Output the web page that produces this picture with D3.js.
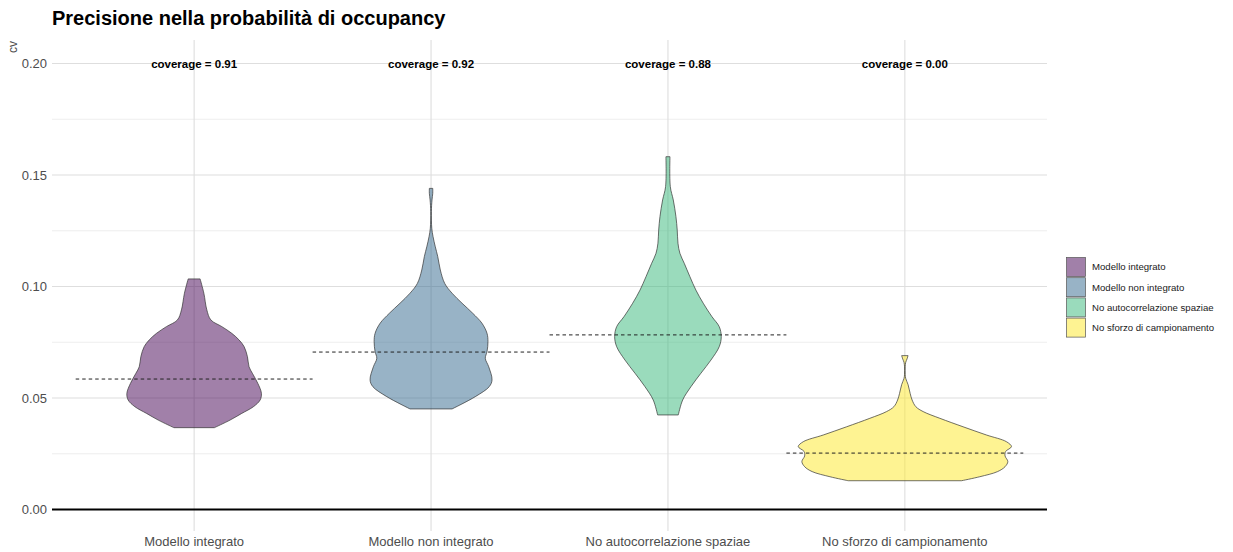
<!DOCTYPE html>
<html>
<head>
<meta charset="utf-8">
<script src="https://cdn.jsdelivr.net/npm/d3@7"></script>
<style>
  html, body { margin: 0; padding: 0; background: #fff; }
  svg { display: block; font-family: "Liberation Sans", Arial, sans-serif; }
</style>
</head>
<body>
<svg id="chart" width="1233" height="552"></svg>
<script>
// Scenari di modello a confronto
const categorie = ["Modello integrato", "Modello non integrato", "No autocorrelazione spaziae", "No sforzo di campionamento"];

// Profili di densità del CV (densità relativa al massimo complessivo)
const cvIntegrato = [0.1034, 0.0970, 0.0895, 0.0850, 0.0820, 0.0790, 0.0760, 0.0730, 0.0685, 0.0640, 0.0611, 0.0566, 0.0521, 0.0491, 0.0461, 0.0431, 0.0401, 0.0367];
const densIntegrato = [0.056, 0.091, 0.119, 0.157, 0.260, 0.353, 0.422, 0.469, 0.500, 0.515, 0.546, 0.597, 0.631, 0.619, 0.556, 0.447, 0.337, 0.190];

const cvNonIntegrato = [0.1440, 0.1418, 0.1388, 0.1336, 0.1261, 0.1223, 0.1178, 0.1134, 0.1074, 0.1014, 0.0970, 0.0925, 0.0880, 0.0835, 0.0790, 0.0753, 0.0708, 0.0678, 0.0640, 0.0581, 0.0551, 0.0506, 0.0451];
const densNonIntegrato = [0.016, 0.016, 0.009, 0.003, 0.007, 0.019, 0.040, 0.063, 0.087, 0.128, 0.197, 0.291, 0.391, 0.478, 0.525, 0.534, 0.525, 0.509, 0.541, 0.572, 0.546, 0.415, 0.197];

const cvNoAutocorr = [0.1582, 0.1448, 0.1388, 0.1313, 0.1253, 0.1194, 0.1149, 0.1104, 0.1044, 0.0984, 0.0925, 0.0865, 0.0820, 0.0775, 0.0730, 0.0670, 0.0611, 0.0551, 0.0491, 0.0424];
const densNoAutocorr = [0.019, 0.022, 0.050, 0.075, 0.087, 0.094, 0.112, 0.153, 0.206, 0.262, 0.331, 0.412, 0.481, 0.500, 0.481, 0.403, 0.309, 0.216, 0.138, 0.097];

const cvNoSforzo = [0.0690, 0.0675, 0.0660, 0.0640, 0.0605, 0.0588, 0.0560, 0.0520, 0.0491, 0.0461, 0.0439, 0.0409, 0.0371, 0.0334, 0.0304, 0.0282, 0.0260, 0.0240, 0.0215, 0.0192, 0.0170, 0.0147, 0.0129];
const densNoSforzo = [0.030, 0.020, 0.008, 0.003, 0.003, 0.008, 0.030, 0.050, 0.068, 0.103, 0.172, 0.328, 0.546, 0.766, 0.953, 1.000, 0.945, 0.940, 0.966, 0.940, 0.870, 0.703, 0.531];

// CV medio per scenario e copertura degli intervalli
const cvMedio = [0.0585, 0.0706, 0.0783, 0.0253];
const copertura = [0.91, 0.92, 0.88, 0.00];

const yTicks = [0.00, 0.05, 0.10, 0.15, 0.20];
const yMinor = [0.025, 0.075, 0.125, 0.175];

const colori = ["#440154", "#31688E", "#35B779", "#FDE725"];

const profili = [
  { cv: cvIntegrato, dens: densIntegrato },
  { cv: cvNonIntegrato, dens: densNonIntegrato },
  { cv: cvNoAutocorr, dens: densNoAutocorr },
  { cv: cvNoSforzo, dens: densNoSforzo }
];

const svg = d3.select("#chart");
const panel = { left: 52, right: 1047, top: 40, bottom: 531 };

const x = d3.scaleBand().domain(categorie).range([panel.left, panel.right])
  .paddingInner(0).paddingOuter(0.1);
const y = d3.scaleLinear().domain([0, 0.20]).range([509.5, 63.5]);
const maxDens = d3.max(profili, p => d3.max(p.dens));
const w = d3.scaleLinear().domain([0, maxDens]).range([0, x.bandwidth() * 0.45]);
const colore = d3.scaleOrdinal().domain(categorie).range(colori);

// griglia secondaria
svg.append("g").selectAll("line").data(yMinor).join("line")
  .attr("x1", panel.left).attr("x2", panel.right)
  .attr("y1", d => y(d)).attr("y2", d => y(d))
  .attr("stroke", "#e6e6e6").attr("stroke-width", 0.7);

// griglia principale
svg.append("g").selectAll("line").data(yTicks).join("line")
  .attr("x1", panel.left).attr("x2", panel.right)
  .attr("y1", d => y(d)).attr("y2", d => y(d))
  .attr("stroke", "#dedede").attr("stroke-width", 1.1);
svg.append("g").selectAll("line").data(categorie).join("line")
  .attr("x1", d => x(d) + x.bandwidth() / 2).attr("x2", d => x(d) + x.bandwidth() / 2)
  .attr("y1", panel.top).attr("y2", panel.bottom)
  .attr("stroke", "#dedede").attr("stroke-width", 1.1);

// violini
const area = d3.area()
  .curve(d3.curveCatmullRom.alpha(0.5))
  .y(d => y(d[0]));

categorie.forEach((c, i) => {
  const cx = x(c) + x.bandwidth() / 2;
  const pts = profili[i].cv.map((v, j) => [v, profili[i].dens[j]]);
  svg.append("path")
    .datum(pts)
    .attr("d", area.x0(d => cx - w(d[1])).x1(d => cx + w(d[1])))
    .attr("fill", colore(c)).attr("fill-opacity", 0.5)
    .attr("stroke", "#333").attr("stroke-width", 0.7);
});

// linea dello zero
svg.append("line")
  .attr("x1", panel.left).attr("x2", panel.right)
  .attr("y1", y(0)).attr("y2", y(0))
  .attr("stroke", "#000").attr("stroke-width", 2);

// CV medio
svg.append("g").selectAll("line").data(categorie).join("line")
  .attr("x1", d => x(d)).attr("x2", d => x(d) + x.bandwidth())
  .attr("y1", (d, i) => y(cvMedio[i])).attr("y2", (d, i) => y(cvMedio[i]))
  .attr("stroke", "#222").attr("stroke-width", 1)
  .attr("stroke-dasharray", "3.5,3");

// etichette di copertura
svg.append("g").selectAll("text").data(categorie).join("text")
  .attr("x", d => x(d) + x.bandwidth() / 2)
  .attr("y", y(0.20))
  .attr("dy", "0.35em")
  .attr("text-anchor", "middle")
  .attr("font-size", 11.5).attr("font-weight", "bold").attr("fill", "#000")
  .text((d, i) => `coverage = ${copertura[i].toFixed(2)}`);

// assi
const yAxis = d3.axisLeft(y).tickValues(yTicks).tickFormat(d3.format(".2f")).tickSize(0).tickPadding(5);
const gy = svg.append("g").attr("transform", `translate(${panel.left},0)`).call(yAxis);
gy.select(".domain").remove();
gy.selectAll("text").attr("font-size", 13).attr("fill", "#4d4d4d").attr("font-family", null);

const xAxis = d3.axisBottom(x).tickSize(0).tickPadding(6);
const gx = svg.append("g").attr("transform", `translate(0,${panel.bottom})`).call(xAxis);
gx.select(".domain").remove();
gx.selectAll("text").attr("font-size", 13).attr("fill", "#4d4d4d").attr("font-family", null);

// titolo asse y
svg.append("text")
  .attr("transform", "translate(17,47) rotate(-90)")
  .attr("text-anchor", "middle")
  .attr("font-size", 12).attr("fill", "#4d4d4d")
  .text("cv");

// titolo
svg.append("text")
  .attr("x", panel.left).attr("y", 25)
  .attr("font-size", 20).attr("font-weight", "bold").attr("fill", "#000")
  .text("Precisione nella probabilità di occupancy");

// legenda
const leg = svg.append("g").attr("transform", "translate(1066,257)");
const voce = leg.selectAll("g").data(categorie).join("g")
  .attr("transform", (d, i) => `translate(0,${i * 20.2})`);
voce.append("rect")
  .attr("x", 0.5).attr("y", 0.5).attr("width", 19).attr("height", 19)
  .attr("fill", d => colore(d)).attr("fill-opacity", 0.5)
  .attr("stroke", "#555").attr("stroke-width", 0.7);
voce.append("text")
  .attr("x", 26).attr("y", 10).attr("dy", "0.35em")
  .attr("font-size", 9.6).attr("fill", "#1a1a1a")
  .text(d => d);
</script>
</body>
</html>
